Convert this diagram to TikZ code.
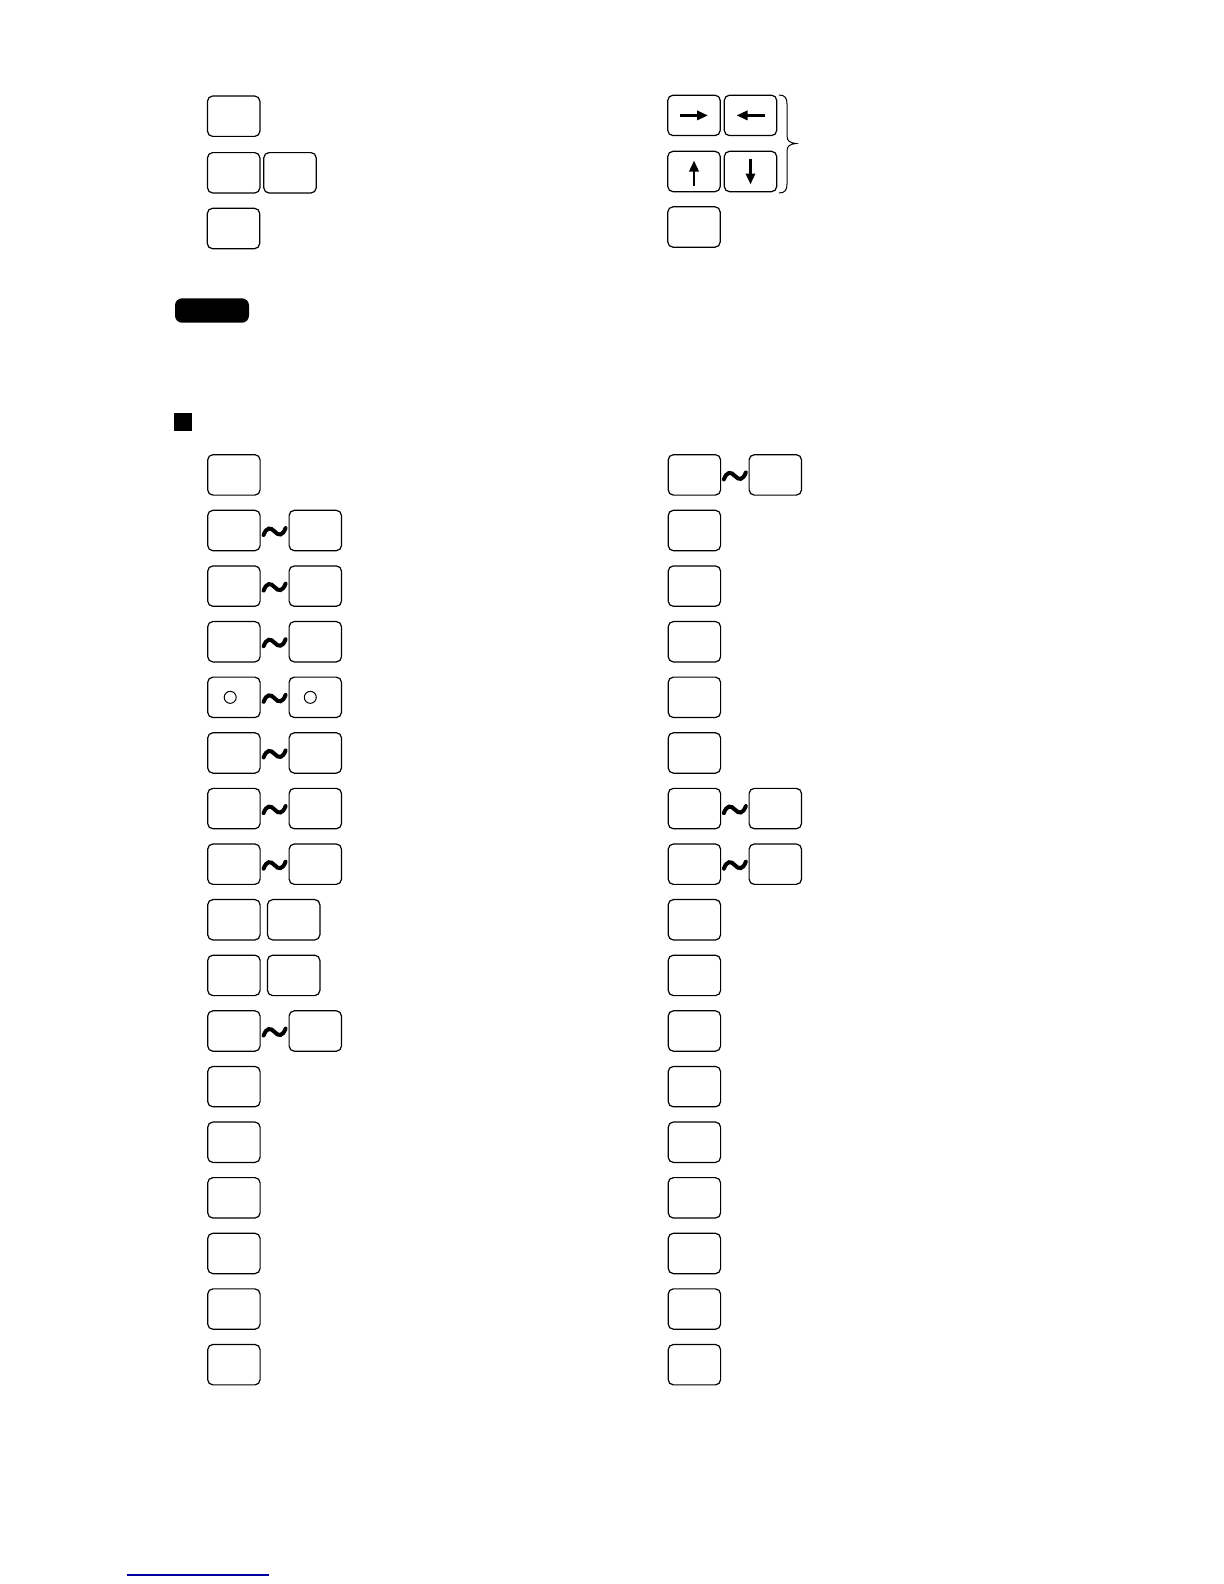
\documentclass[tikz,border=0pt]{standalone}
\usetikzlibrary{calc,arrows.meta}
\definecolor{linkblue}{RGB}{0,0,160}
\tikzset{
  keybox/.style={draw, rounded corners=2.6pt, minimum width=26.2pt, minimum height=20.2pt, inner sep=0pt, line width=0.6pt},
  keyarrow/.style={line width=1.4pt, -{Triangle[length=5.5pt,width=4.6pt]}},
  keycircle/.style={draw, circle, minimum size=6pt, inner sep=0pt, line width=0.5pt},
  tildemark/.pic={\draw[line width=2pt, line cap=round] (-11,3.5) .. controls (-8,-4.5) and (-4,-4.5) .. (0,0) .. controls (4,4.5) and (8,4.5) .. (11,-3.5);}
}
\begin{document}
\begin{tikzpicture}[x=0.5pt,y=-0.5pt]
\useasboundingbox (0,0) rectangle (1224,1584);
% top section
\node[keybox] (T1) at (233.7,116.2) {};
\node[keybox] (T2a) at (233.7,172.8) {};
\node[keybox] (T2b) at (290,172.8) {};
\node[keybox] (T3) at (233.5,228.5) {};
\node[keybox] (A1) at (694,115.4) {};
\node[keybox] (A2) at (750.5,115.4) {};
\node[keybox] (A3) at (694,171.5) {};
\node[keybox] (A4) at (750.5,171.5) {};
\node[keybox] (A5) at (694,227) {};
\draw[keyarrow] ($(A1.center)+(-14,0)$) -- ($(A1.center)+(14,0)$);
\draw[keyarrow] ($(A2.center)+(14,0)$) -- ($(A2.center)+(-14,0)$);
\draw[keyarrow] ($(A3.center)+(0,14)$) -- ($(A3.center)+(0,-11)$);
\draw[keyarrow] ($(A4.center)+(0,-13)$) -- ($(A4.center)+(0,13)$);
% brace
\draw[line width=0.5pt] (779,95) .. controls (785,95) and (787,98) .. (787,104) -- (787,136) .. controls (787,141) and (790,143) .. (796,143.5) .. controls (790,144) and (787,146) .. (787,151) -- (787,184) .. controls (787,190) and (785,193) .. (779,193);
% black label pill and square
\node[fill=black, rounded corners=3.5pt, minimum width=37pt, minimum height=12.2pt, inner sep=0pt] (pill) at (212,310.5) {};
\node[fill=black, minimum size=9pt, inner sep=0pt] (sq) at (183,421.7) {};
% main grid
\foreach \i [evaluate=\i as \yy using 474.9+55.61*(\i-1)] in {1,...,17} {
  \node[keybox] (L\i) at (233.9,\yy) {};
  \node[keybox] (R\i) at (694.4,\yy) {};
}
\foreach \i [evaluate=\i as \yy using 474.9+55.61*(\i-1)] in {2,3,4,5,6,7,8,11} {
  \node[keybox] (L\i-b) at (315.3,\yy) {};
  \pic at ($(L\i.east)!0.5!(L\i-b.west)+(0,1)$) {tildemark};
}
\foreach \i [evaluate=\i as \yy using 474.9+55.61*(\i-1)] in {9,10} {
  \node[keybox] (L\i-b) at (293.7,\yy) {};
}
\foreach \i [evaluate=\i as \yy using 474.9+55.61*(\i-1)] in {1,7,8} {
  \node[keybox] (R\i-b) at (775.3,\yy) {};
  \pic at ($(R\i.east)!0.5!(R\i-b.west)+(0,1)$) {tildemark};
}
\node[keycircle] (c1) at ($(L5.center)+(-3.7,0)$) {};
\node[keycircle] (c2) at ($(L5-b.center)+(-5,0)$) {};
% bottom link line
\draw[linkblue, line width=0.8pt] (126.7,1575) -- (269,1575);
\end{tikzpicture}
\end{document}
